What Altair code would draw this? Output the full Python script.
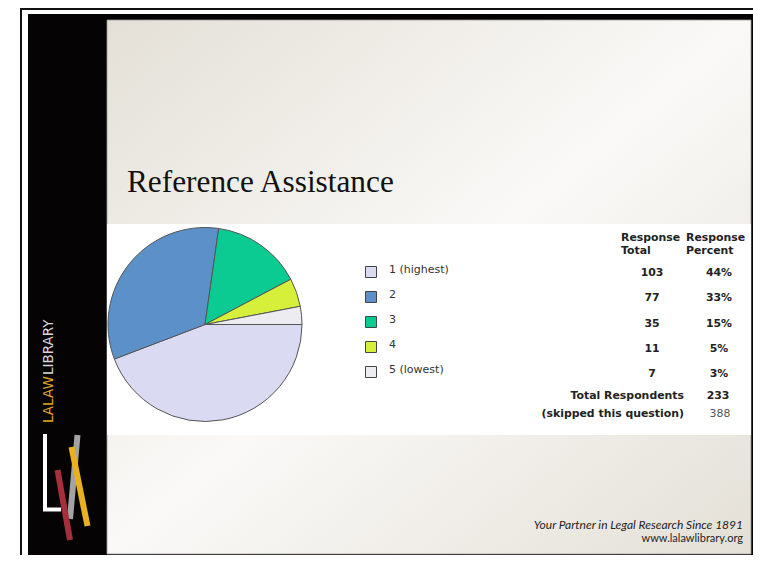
import math
import altair as alt
import pandas as pd

# ---- data ----
categories = ["1 (highest)", "2", "3", "4", "5 (lowest)"]
totals = [103, 77, 35, 11, 7]
percents = [44, 33, 15, 5, 3]
colors = ["#dadaf2", "#5b90c8", "#0bca92", "#d5ef3b", "#ededf1"]
summary_labels = ["Total Respondents", "(skipped this question)"]
summary_values = [233, 388]
header_total = ["Response", "Total"]
header_pct = ["Response", "Percent"]
title_text = "Reference Assistance"
footer_lines = ["Your Partner in Legal Research Since 1891", "www.lalawlibrary.org"]
brand = ["LALAW", "LIBRARY"]

W, H = 745, 547


def P(v):
    return v - 8


one = alt.Data(values=[{"k": 1}])

df = pd.DataFrame({"cat": categories, "total": totals, "pct": percents,
                   "order": list(range(len(categories)))})
sdf = pd.DataFrame({"label": summary_labels, "value": summary_values})

color_scale = alt.Scale(domain=categories, range=colors)


def rect(x, x2, y, y2, **kw):
    return alt.Chart(one).mark_rect(**kw).encode(
        x=alt.value(P(x)), x2=alt.value(P(x2)), y=alt.value(P(y)), y2=alt.value(P(y2)))


def rule(x, y, x2, y2, color, w):
    return alt.Chart(one).mark_rule(color=color, strokeWidth=w, strokeCap="butt").encode(
        x=alt.value(P(x)), y=alt.value(P(y)), x2=alt.value(P(x2)), y2=alt.value(P(y2)))


def label(text, x, y, **kw):
    return alt.Chart(one).mark_text(**kw).encode(
        x=alt.value(P(x)), y=alt.value(P(y)), text=alt.value(text))


grad = {
    "gradient": "linear", "x1": 0, "y1": 0, "x2": 1, "y2": 1,
    "stops": [
        {"offset": 0, "color": "#e4e0d7"},
        {"offset": 0.5, "color": "#faf9f7"},
        {"offset": 1, "color": "#e4e0d7"},
    ],
}

layers = []
# outer thin frame
layers.append(rule(21, 8, 21, 570, "#111111", 2))
layers.append(rule(20, 9, 770, 9, "#111111", 2))
# black slide frame
layers.append(rect(28, 757, 14, 560, color="#050303"))
# light panel
layers.append(rect(107, 751, 20, 554, color=grad, stroke="#9a9a9a", strokeWidth=0.8))
# white chart band
layers.append(rect(107, 751, 224, 435, color="#ffffff"))

# title
layers.append(label(title_text, 127, 192, align="left", baseline="alphabetic",
                    font="Liberation Serif", fontSize=31.3, color="#111111"))

# pie
pie = alt.Chart(df).mark_arc(outerRadius=97, stroke="#555555", strokeWidth=1).encode(
    theta=alt.Theta("total:Q", stack=True,
                    scale=alt.Scale(range=[math.pi / 2, math.pi / 2 + 2 * math.pi])),
    color=alt.Color("cat:N", scale=color_scale, legend=None),
    order=alt.Order("order:Q"),
    x=alt.value(P(205)), y=alt.value(P(324.5)),
)
layers.append(pie)

# legend
ly = alt.Y("cat:N", scale=alt.Scale(type="point", domain=categories,
                                     range=[P(272), P(372)], padding=0), axis=None)
leg_sq = alt.Chart(df).mark_square(size=121, stroke="#444444", strokeWidth=1,
                                   filled=True, opacity=1).encode(
    x=alt.value(P(371)), y=ly,
    color=alt.Color("cat:N", scale=color_scale, legend=None))
leg_tx = alt.Chart(df).mark_text(align="left", baseline="middle", font="DejaVu Sans",
                                 fontSize=11, color="#333333", dy=-2).encode(
    x=alt.value(P(389)), y=ly, text="cat:N")
layers += [leg_sq, leg_tx]

# table
bold = dict(font="DejaVu Sans", fontSize=10.9, fontWeight="bold", color="#222222")
ty = alt.Y("cat:N", scale=alt.Scale(type="point", domain=categories,
                                     range=[P(273), P(374)], padding=0), axis=None)
tot_tx = alt.Chart(df).mark_text(align="center", baseline="middle", **bold).encode(
    x=alt.value(P(652)), y=ty, text="total:Q")
pct_tx = alt.Chart(df).transform_calculate(pl="datum.pct + '%'").mark_text(
    align="center", baseline="middle", **bold).encode(
    x=alt.value(P(719)), y=ty, text="pl:N")
layers += [tot_tx, pct_tx]

layers.append(label(header_total[0], 621, 238, align="left", baseline="middle", **bold))
layers.append(label(header_total[1], 621, 251, align="left", baseline="middle", **bold))
layers.append(label(header_pct[0], 686, 238, align="left", baseline="middle", **bold))
layers.append(label(header_pct[1], 686, 251, align="left", baseline="middle", **bold))

sy = alt.Y("label:N", scale=alt.Scale(type="point", domain=summary_labels,
                                       range=[P(396), P(414)], padding=0), axis=None)
sum_lbl = alt.Chart(sdf).mark_text(align="right", baseline="middle", **bold).encode(
    x=alt.value(P(684)), y=sy, text="label:N")
sum_v1 = alt.Chart(sdf).transform_filter(alt.datum.label == summary_labels[0]).mark_text(
    align="center", baseline="middle", **bold).encode(
    x=alt.value(P(718)), y=sy, text="value:Q")
sum_v2 = alt.Chart(sdf).transform_filter(alt.datum.label == summary_labels[1]).mark_text(
    align="center", baseline="middle", font="DejaVu Sans", fontSize=10.9, color="#555555").encode(
    x=alt.value(P(720)), y=sy, text="value:Q")
layers += [sum_lbl, sum_v1, sum_v2]

# footer
layers.append(label(footer_lines[0], 743, 525, align="right", baseline="middle",
                    font="Lato", fontStyle="italic", fontSize=12, color="#1e1e1e"))
layers.append(label(footer_lines[1], 743, 539, align="right", baseline="middle",
                    font="Lato", fontSize=11, color="#1e1e1e"))

# sidebar brand
layers.append(label(brand[0], 49, 423, align="left", baseline="middle", angle=270,
                    font="DejaVu Sans", fontSize=13.5, color="#e0a623"))
layers.append(label(brand[1], 49, 375, align="left", baseline="middle", angle=270,
                    font="DejaVu Sans", fontSize=13.5, color="#d8d8d8"))

# logo
layers.append(rule(45, 434, 45, 511, "#ffffff", 4))
layers.append(rule(43, 509.5, 61, 509.5, "#ffffff", 4))
layers.append(rule(77.5, 435, 70, 519, "#a3a3a3", 6))
layers.append(rule(57.5, 470, 70, 540, "#a72f3b", 6))
layers.append(rule(71.5, 447, 87.5, 526, "#e9b01f", 6))

chart = alt.layer(*layers).resolve_scale(y="independent").properties(
    width=W, height=H, padding=0,
    autosize=alt.AutoSizeParams(type="none"),
    background="#ffffff",
).configure_view(stroke=None)

chart.save("out.html", embed_options={"renderer": "svg", "actions": False})
